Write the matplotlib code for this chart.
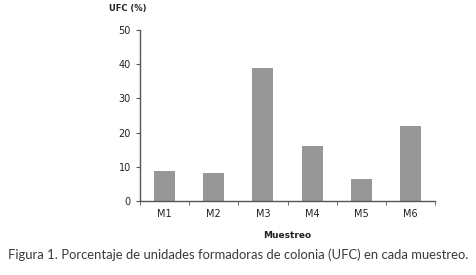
import matplotlib

matplotlib.use("Agg")
import matplotlib.pyplot as plt
import numpy as np

muestreos = ["M1", "M2", "M3", "M4", "M5", "M6"]
ufc_pct = [8.8, 8.2, 39.0, 16.2, 6.4, 22.0]
y_ticks = [0, 10, 20, 30, 40, 50]

fig = plt.figure(figsize=(4.76, 2.75), dpi=100)
ax = fig.add_axes([0.294, 0.269, 0.620, 0.622])

x = np.arange(len(muestreos))
ax.bar(x, ufc_pct, width=0.43, color="#979797")

ax.set_xlim(-0.5, len(muestreos) - 0.5)
ax.set_ylim(0, 50)
ax.set_yticks(y_ticks)
ax.set_xticks(x)
ax.set_xticklabels(muestreos)
ax.set_xticks(np.arange(len(muestreos) + 1) - 0.5, minor=True)
ax.tick_params(axis="x", which="major", length=0, pad=6, labelsize=7, colors="#222222")
ax.tick_params(axis="x", which="minor", length=3, direction="out", color="#555555")
ax.tick_params(axis="y", length=3, direction="out", labelsize=7, color="#555555", labelcolor="#222222")

for side in ("top", "right"):
    ax.spines[side].set_visible(False)
for side in ("left", "bottom"):
    ax.spines[side].set_color("#555555")
    ax.spines[side].set_linewidth(1.0)

fig.text(0.269, 0.97, "UFC (%)", fontsize=6, fontweight="bold", ha="center", va="center", color="#222222")
fig.text(0.604, 0.142, "Muestreo", fontsize=6.5, fontweight="bold", ha="center", va="center", color="#222222")
fig.text(0.5, 0.072, "Figura 1. Porcentaje de unidades formadoras de colonia (UFC) en cada muestreo.",
         fontsize=9.4, family="Lato", ha="center", va="center", color="#3a3a3a")

fig.savefig("out.png", dpi=100)
